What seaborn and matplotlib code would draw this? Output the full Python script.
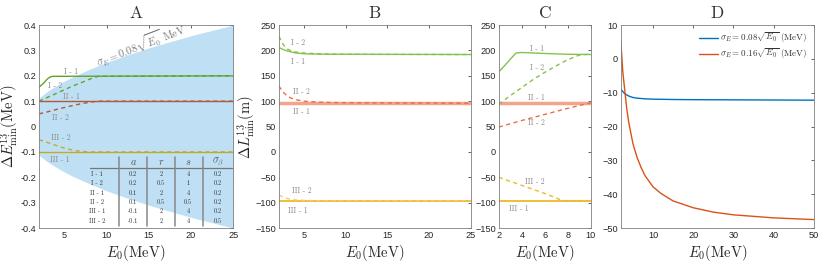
import numpy as np
import pandas as pd
import seaborn as sns
import matplotlib.pyplot as plt

# =========================
# data
# =========================

# panel A: energy resolution band and the six cases
band_e = [2, 3, 4, 5, 6, 8, 10, 12, 15, 18, 20, 22, 25]
band_hi = [0.113, 0.139, 0.160, 0.179, 0.196, 0.226, 0.253, 0.277, 0.310, 0.339, 0.358, 0.375, 0.400]

a_i1_e = [2, 2.5, 3, 3.3, 3.6, 25]
a_i1 = [0.155, 0.170, 0.188, 0.195, 0.198, 0.200]
a_i2_e = [2, 3, 4, 5, 6, 7, 8, 9, 25]
a_i2 = [0.100, 0.115, 0.130, 0.145, 0.160, 0.173, 0.187, 0.198, 0.200]
a_ii1_e = [2, 25]
a_ii1 = [0.100, 0.100]
a_ii2_e = [2, 3, 4, 5, 6, 7, 8, 9, 25]
a_ii2 = [0.050, 0.058, 0.067, 0.075, 0.083, 0.090, 0.096, 0.100, 0.100]
a_iii1_e = [2, 25]
a_iii1 = [-0.100, -0.100]
a_iii2_e = [2, 3, 4, 5, 6, 7, 8, 25]
a_iii2 = [-0.052, -0.063, -0.074, -0.085, -0.093, -0.098, -0.100, -0.100]

# table of parameters in panel A
case_names = ["I - 1", "I - 2", "II - 1", "II - 2", "III - 1", "III - 2"]
par_a = ["0.2", "0.2", "0.1", "0.1", "-0.1", "-0.1"]
par_r = ["2", "0.5", "2", "0.5", "2", "2"]
par_s = ["4", "1", "4", "0.5", "4", "4"]
par_sb = ["0.2", "0.2", "0.2", "0.2", "0.2", "0.5"]

# panel B
b_i1_e = [2, 2.5, 3, 3.5, 4, 5, 6, 8, 25]
b_i1 = [206, 202, 199, 197, 195, 193.5, 193, 192.5, 192]
b_i2_e = [2, 2.5, 3, 3.5, 4, 5, 6, 8, 10, 25]
b_i2 = [228, 212, 203, 199, 197, 195, 194, 193, 192.5, 192]
b_ii1_e = [2, 25]
b_ii1 = [96, 96]
b_ii2_e = [2, 2.5, 3, 3.5, 4, 5, 6, 7, 8, 10, 25]
b_ii2 = [130, 118, 110, 106, 103, 100, 99, 98, 97.5, 97, 96]
b_iii1_e = [2, 25]
b_iii1 = [-96, -96]
b_iii2_e = [2, 2.5, 3, 4, 5, 6, 25]
b_iii2 = [-85, -89, -92, -94.5, -95.5, -96, -96]

# panel C
c_i1_e = [2, 2.5, 3, 3.5, 4, 6, 8, 10]
c_i1 = [158, 170, 183, 195, 196, 194, 192.5, 192]
c_i2_e = [2, 3, 4, 5, 6, 7, 8, 9, 10]
c_i2 = [94, 111, 127, 143, 157, 170, 182, 191, 193]
c_ii1_e = [2, 10]
c_ii1 = [96, 96]
c_ii2_e = [2, 4, 6, 8, 10]
c_ii2 = [49, 62, 74, 86, 97]
c_iii1_e = [2, 10]
c_iii1 = [-96, -96]
c_iii2_e = [2, 3, 4, 5, 6, 7, 7.5, 10]
c_iii2 = [-50, -58, -66, -74, -82, -91, -96, -96]

# panel D
d_e_blue = [2, 3, 4, 5, 6, 8, 10, 15, 20, 30, 40, 50]
d_blue = [-9, -10.3, -11, -11.4, -11.6, -11.8, -11.9, -12, -12.05, -12.1, -12.15, -12.2]
d_e_red = [2, 2.5, 3, 3.5, 4, 5, 6, 7, 8, 10, 12, 15, 20, 25, 30, 40, 50]
d_red = [5, -4, -9.5, -15, -19, -25, -29, -32, -34.5, -37.8, -39.8, -42, -44, -45.3, -46.1, -47, -47.5]

# =========================
# style
# =========================
sns.set_theme(style="white")
plt.rcParams["font.family"] = ["Liberation Sans", "DejaVu Sans"]
plt.rcParams["mathtext.fontset"] = "cm"
plt.rcParams["axes.edgecolor"] = "#262626"
plt.rcParams["xtick.color"] = "#262626"
plt.rcParams["ytick.color"] = "#262626"

SERIF = ["cmr10", "DejaVu Serif"]


def style_axes(ax, title, xlabel, ylabel=None, ylab_x=-0.1):
    ax.set_title(title, fontsize=12.5, family=SERIF, color="#333333", pad=5)
    ax.set_xlabel(xlabel, fontsize=10.5, labelpad=2)
    if ylabel:
        ax.set_ylabel(ylabel, fontsize=10.5)
        ax.yaxis.set_label_coords(ylab_x, 0.5)
    ax.tick_params(direction="in", length=2.5, width=0.5, labelsize=6.6,
                   top=True, right=True, pad=2)
    for sp in ax.spines.values():
        sp.set_linewidth(0.6)
        sp.set_color("#7f7f7f")


def line(ax, x, y, color, dashed=False, lw=1.0):
    sns.lineplot(x=x, y=y, ax=ax, color=color, linewidth=lw,
                 linestyle=(0, (3, 2.5)) if dashed else "-")


def label(ax, x, y, txt):
    ax.text(x, y, txt, fontsize=5.5, color="#8a8a8a", family=SERIF,
            ha="center", va="center")


fig = plt.figure(figsize=(8.3, 2.67), dpi=100)
axA = fig.add_axes([0.047, 0.146, 0.234, 0.760])
axB = fig.add_axes([0.336, 0.146, 0.231, 0.760])
axC = fig.add_axes([0.601, 0.146, 0.111, 0.760])
axD = fig.add_axes([0.748, 0.146, 0.2325, 0.760])

# =========================
# panel A
# =========================
band = pd.DataFrame({"E": band_e, "hi": band_hi})
axA.fill_between(band["E"], -band["hi"], band["hi"], color="#bfe0f4", lw=0)

line(axA, a_i1_e, a_i1, "#5ea52e")
line(axA, a_i2_e, a_i2, "#5ea52e", dashed=True)
line(axA, a_ii1_e, a_ii1, "#b0583a")
line(axA, a_ii2_e, a_ii2, "#b0583a", dashed=True)
line(axA, a_iii1_e, a_iii1, "#c0aa2e")
line(axA, a_iii2_e, a_iii2, "#c0aa2e", dashed=True)

label(axA, 5.8, 0.217, "I - 1")
label(axA, 3.9, 0.161, "I - 2")
label(axA, 5.8, 0.117, "II - 1")
label(axA, 4.5, 0.035, "II - 2")
label(axA, 4.6, -0.045, "III - 2")
label(axA, 4.5, -0.132, "III - 1")
axA.text(14.0, 0.322, r"$\sigma_E = 0.08\sqrt{E_0}\ \mathrm{MeV}$", fontsize=7.5,
         color="#777777", rotation=21, ha="center", va="center")

# parameter table
col_x = [0.297, 0.485, 0.629, 0.768, 0.923]
sep_x = [0.412, 0.557, 0.701, 0.845]
row_y = [0.266, 0.220, 0.173, 0.127, 0.081, 0.035]
heads = [r"$a$", r"$r$", r"$s$", r"$\sigma_\beta$"]
for cx, h in zip(col_x[1:], heads):
    axA.text(cx, 0.327, h, transform=axA.transAxes, fontsize=7.5,
             color="#555555", ha="center", va="center")
axA.plot([0.263, 0.995], [0.296, 0.296], transform=axA.transAxes,
         color="#777777", lw=0.9)
for sx in sep_x:
    axA.plot([sx, sx], [0.01, 0.35], transform=axA.transAxes,
             color="#888888", lw=1.1)
cols = [case_names, par_a, par_r, par_s, par_sb]
for cx, col in zip(col_x, cols):
    for ry, v in zip(row_y, col):
        axA.text(cx, ry, v, transform=axA.transAxes, fontsize=4.6,
                 color="#333333", family=SERIF, ha="center", va="center")

axA.set_xlim(2, 25)
axA.set_ylim(-0.4, 0.4)
axA.set_xticks([5, 10, 15, 20, 25])
axA.set_yticks(np.round(np.arange(-0.4, 0.41, 0.1), 1))
axA.set_yticklabels(["-0.4", "-0.3", "-0.2", "-0.1", "0", "0.1", "0.2", "0.3", "0.4"])
style_axes(axA, "A", r"$E_0\mathrm{(MeV)}$",
           r"$\Delta E^{13}_{\mathrm{min}}\mathrm{(MeV)}$", ylab_x=-0.095)

# =========================
# panel B
# =========================
GREEN = "#86c150"
RED = "#ec6e45"
SALMON = "#f2a58a"
YELLOW = "#efb82e"

line(axB, b_ii1_e, b_ii1, SALMON, lw=2.5)
line(axB, b_i1_e, b_i1, GREEN)
line(axB, b_i2_e, b_i2, GREEN, dashed=True)
line(axB, b_ii2_e, b_ii2, RED, dashed=True)
line(axB, b_iii1_e, b_iii1, YELLOW, lw=1.3)
line(axB, b_iii2_e, b_iii2, "#f5cb6a", dashed=True)

label(axB, 4.3, 216, "I - 2")
label(axB, 4.3, 178, "I - 1")
label(axB, 4.7, 119, "II - 2")
label(axB, 4.7, 79, "II - 1")
label(axB, 4.7, -77, "III - 2")
label(axB, 4.3, -116, "III - 1")

axB.set_xlim(2, 25)
axB.set_ylim(-150, 250)
axB.set_xticks([5, 10, 15, 20, 25])
axB.set_yticks(np.arange(-150, 251, 50))
style_axes(axB, "B", r"$E_0\mathrm{(MeV)}$",
           r"$\Delta L^{13}_{\mathrm{min}}\mathrm{(m)}$", ylab_x=-0.11)

# =========================
# panel C
# =========================
line(axC, c_ii1_e, c_ii1, SALMON, lw=2.5)
line(axC, c_i1_e, c_i1, GREEN)
line(axC, c_i2_e, c_i2, GREEN, dashed=True)
line(axC, c_ii2_e, c_ii2, RED, dashed=True)
line(axC, c_iii1_e, c_iii1, YELLOW, lw=1.3)
line(axC, c_iii2_e, c_iii2, YELLOW, dashed=True)

label(axC, 5.3, 204, "I - 1")
label(axC, 5.3, 166, "I - 2")
label(axC, 5.3, 107, "II - 1")
label(axC, 5.3, 57, "II - 2")
label(axC, 5.1, -59, "III - 2")
label(axC, 3.7, -112, "III - 1")

axC.set_xlim(2, 10)
axC.set_ylim(-150, 250)
axC.set_xticks([2, 4, 6, 8, 10])
axC.set_yticks(np.arange(-150, 251, 50))
style_axes(axC, "C", r"$E_0\mathrm{(MeV)}$")

# =========================
# panel D
# =========================
sns.lineplot(x=d_e_blue, y=d_blue, ax=axD, color="#0072bd", linewidth=1.0,
             label=r"$\sigma_E = 0.08\sqrt{E_0}$ (MeV)")
sns.lineplot(x=d_e_red, y=d_red, ax=axD, color="#d95319", linewidth=1.0,
             label=r"$\sigma_E = 0.16\sqrt{E_0}$ (MeV)")
leg = axD.legend(loc="upper right", fontsize=6.5, frameon=False, handlelength=2.2,
                 handletextpad=0.2, borderaxespad=0.3, labelspacing=0.2)
for t in leg.get_texts():
    t.set_family(SERIF)
    t.set_color("#333333")

axD.set_xlim(2, 50)
axD.set_ylim(-50, 10)
axD.set_xticks([10, 20, 30, 40, 50])
axD.set_yticks(np.arange(-50, 11, 10))
style_axes(axD, "D", r"$E_0\mathrm{(MeV)}$")

fig.savefig("out.png", dpi=100)
